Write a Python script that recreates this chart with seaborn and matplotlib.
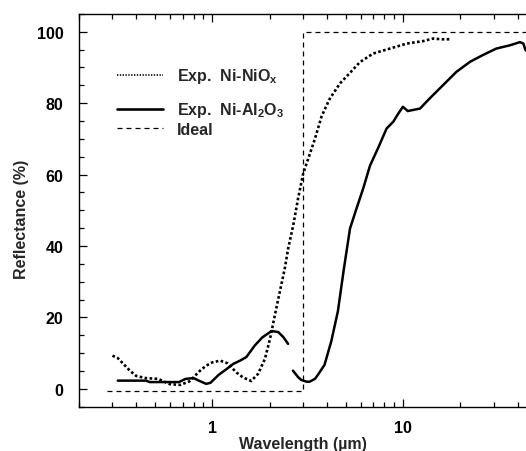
import numpy as np
import pandas as pd
import matplotlib
matplotlib.use("Agg")
import matplotlib.pyplot as plt
from matplotlib.lines import Line2D
from matplotlib.ticker import LogLocator, FixedLocator, MultipleLocator, NullFormatter, FuncFormatter
import seaborn as sns

# ---------------------------------------------
# Data (wavelength in um, reflectance in %)
# ---------------------------------------------
nio_wl = [0.30, 0.32, 0.37, 0.40, 0.45, 0.52, 0.60, 0.68, 0.76, 0.86, 0.93, 1.00,
          1.10, 1.20, 1.34, 1.45, 1.60, 1.74, 1.89, 2.01, 2.13, 2.26, 2.40, 2.50,
          2.66, 2.82, 3.00, 3.19, 3.46, 3.75, 4.14, 4.67, 5.28, 5.95, 6.98, 8.55,
          10.5, 12.8, 14.4, 16.0, 18.0]
nio_refl = [9.3, 8.6, 5.1, 3.6, 3.0, 2.8, 1.3, 1.1, 2.1, 5.0, 6.5, 7.4,
            7.9, 7.2, 4.6, 3.2, 2.2, 4.2, 8.4, 14.0, 20.6, 27.1, 33.6, 39.2,
            45.8, 53.3, 60.3, 64.5, 70.1, 76.4, 81.3, 85.5, 88.5, 91.5, 93.9, 95.3,
            96.7, 97.4, 98.1, 97.9, 97.9]

al_vis_wl = [0.32, 0.45, 0.47, 0.67, 0.725, 0.80, 0.85, 0.93, 0.98, 1.08, 1.18,
             1.29, 1.40, 1.51, 1.67, 1.83, 2.05, 2.22, 2.36, 2.50]
al_vis_refl = [2.3, 2.3, 1.9, 1.9, 2.8, 3.0, 2.3, 1.4, 1.7, 3.9, 5.4,
               7.0, 7.9, 8.9, 12.1, 14.4, 16.2, 15.9, 14.5, 12.6]

al_ir_wl = [2.65, 2.82, 2.93, 3.13, 3.24, 3.46, 3.58, 3.88, 4.21, 4.56, 4.90,
            5.28, 5.71, 6.19, 6.72, 7.42, 8.21, 8.90, 9.46, 10.0, 10.6, 12.3,
            13.8, 16.2, 19.1, 22.5, 26.3, 30.9, 36.3, 41.1, 42.8, 44.0]
al_ir_refl = [5.1, 3.3, 2.5, 2.0, 2.0, 2.8, 3.9, 6.7, 13.3, 21.7, 33.5,
              44.9, 50.5, 56.1, 62.5, 67.5, 72.9, 74.8, 77.1, 79.0, 77.8, 78.5,
              81.3, 85.0, 88.8, 91.6, 93.5, 95.3, 96.2, 97.1, 96.7, 94.8]

ideal_wl = [0.28, 3.0, 3.0, 50.0]
ideal_refl = [-0.5, -0.5, 100.0, 100.0]

legend_labels = ["Exp.  Ni-NiO$_{x}$", "Exp.  Ni-Al$_{2}$O$_{3}$", "Ideal"]

# ---------------------------------------------
# Style
# ---------------------------------------------
sns.set_style("ticks")
plt.rcParams['font.family'] = ['Liberation Sans', 'DejaVu Sans']
plt.rcParams['font.weight'] = 'bold'
plt.rcParams['font.size'] = 11
plt.rcParams['mathtext.default'] = 'regular'

fig = plt.figure(figsize=(5.26, 4.52), dpi=100)
ax = fig.add_axes([0.150, 0.098, 0.85, 0.869])

dotted = (0, (1, 0.9))
dashed = (0, (4, 3.2))

sns.lineplot(x=nio_wl, y=nio_refl, ax=ax, estimator=None, sort=False,
             color='black', lw=1.9, linestyle=dotted)
sns.lineplot(x=al_vis_wl, y=al_vis_refl, ax=ax, estimator=None, sort=False,
             color='black', lw=1.8)
sns.lineplot(x=al_ir_wl, y=al_ir_refl, ax=ax, estimator=None, sort=False,
             color='black', lw=1.8)
sns.lineplot(x=ideal_wl, y=ideal_refl, ax=ax, estimator=None, sort=False,
             color='black', lw=0.9, linestyle=dashed)

ax.set_xscale('log')
ax.set_xlim(0.2, 44.2)
ax.set_ylim(-5, 105)

# ticks
ax.xaxis.set_major_locator(FixedLocator([1, 10]))
ax.xaxis.set_minor_locator(LogLocator(base=10, subs=np.arange(2, 10), numticks=20))
ax.xaxis.set_major_formatter(FuncFormatter(lambda v, p: f"{v:g}"))
ax.xaxis.set_minor_formatter(NullFormatter())
ax.yaxis.set_major_locator(MultipleLocator(20))
ax.yaxis.set_minor_locator(MultipleLocator(5))
ax.tick_params(axis='both', which='both', direction='in', width=0.9, colors='black',
               labelsize=11.5)
ax.tick_params(axis='x', which='both', top=True, bottom=True)
ax.tick_params(axis='y', which='both', left=True, right=False)
ax.tick_params(which='major', length=6)
ax.tick_params(which='minor', length=3.3)
ax.tick_params(axis='y', which='major', pad=11)
ax.tick_params(axis='x', which='major', pad=9.5)
for lbl in ax.get_xticklabels() + ax.get_yticklabels():
    lbl.set_fontweight('bold')

for side in ['left', 'bottom', 'top']:
    ax.spines[side].set_linewidth(1.0)
    ax.spines[side].set_color('black')
ax.spines['right'].set_visible(False)

ax.set_xlabel("Wavelength (µm)", fontsize=11.5, fontweight='bold', labelpad=0.5)
ax.set_ylabel("Reflectance (%)", fontsize=11.5, fontweight='bold')
ax.yaxis.set_label_coords(-0.112, 0.479)

leg_font = {'family': ['Liberation Sans', 'DejaVu Sans'], 'weight': 'bold', 'size': 11.5}
handles = [
    Line2D([], [], color='black', lw=1.2, linestyle=(0, (0.8, 0.9))),
    Line2D([], [], color='black', lw=1.9),
    Line2D([], [], color='black', lw=0.9, linestyle=dashed),
]
leg1 = ax.legend(handles[:2], legend_labels[:2], loc='upper left',
                 bbox_to_anchor=(0.085, 0.867), frameon=False, borderpad=0,
                 borderaxespad=0, handlelength=2.9, handletextpad=0.85,
                 labelspacing=0.95, prop=leg_font)
ax.add_artist(leg1)
ax.legend(handles[2:], legend_labels[2:], loc='center left',
          bbox_to_anchor=(0.085, 0.707), frameon=False, borderpad=0,
          borderaxespad=0, handlelength=2.9, handletextpad=0.85, prop=leg_font)

fig.savefig("out.png", dpi=100)
